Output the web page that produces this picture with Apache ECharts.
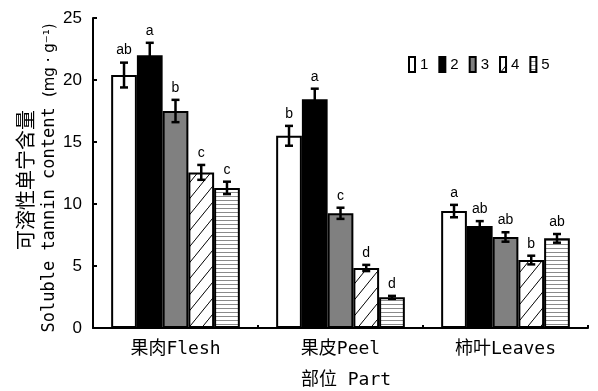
<!DOCTYPE html>
<html>
<head>
<meta charset="utf-8">
<script src="https://cdn.jsdelivr.net/npm/echarts@6/dist/echarts.min.js"></script>
<style>
  html, body { margin: 0; padding: 0; background: #fff; }
  #chart { width: 598px; height: 391px; }
</style>
</head>
<body>
<div id="chart"></div>
<script>
// Parts sampled and treatment groups
const categories = ['果肉Flesh', '果皮Peel', '柿叶Leaves'];
const treatments = ['1', '2', '3', '4', '5'];

// Mean soluble tannin content (mg·g-1) per treatment, ordered as categories
const mean1 = [20.4, 15.5, 9.43];
const mean2 = [22.0, 18.45, 8.22];
const mean3 = [17.5, 9.25, 7.34];
const mean4 = [12.55, 4.84, 5.48];
const mean5 = [11.3, 2.47, 7.23];

// Standard errors
const err1 = [1.0, 0.8, 0.5];
const err2 = [1.0, 0.85, 0.4];
const err3 = [0.9, 0.45, 0.38];
const err4 = [0.6, 0.25, 0.35];
const err5 = [0.5, 0.12, 0.35];

// Significance letters
const sig1 = ['ab', 'b', 'a'];
const sig2 = ['a', 'a', 'ab'];
const sig3 = ['b', 'c', 'ab'];
const sig4 = ['c', 'd', 'b'];
const sig5 = ['c', 'd', 'ab'];

// Y axis ticks
const yMin = 0, yMax = 25, yStep = 5;

const means = [mean1, mean2, mean3, mean4, mean5];
const errs = [err1, err2, err3, err4, err5];
const sigs = [sig1, sig2, sig3, sig4, sig5];

// Fill patterns for treatments 4 (diagonal hatch) and 5 (horizontal lines)
function diagonalTile() {
  const w = 13, h = 16;
  const c = document.createElement('canvas');
  c.width = w; c.height = h;
  const g = c.getContext('2d');
  g.fillStyle = '#fff'; g.fillRect(0, 0, w, h);
  g.strokeStyle = '#000'; g.lineWidth = 1;
  g.beginPath();
  g.moveTo(-w, 2 * h); g.lineTo(2 * w, -h);
  g.moveTo(-2 * w, 2 * h); g.lineTo(w, -h);
  g.moveTo(0, 3 * h); g.lineTo(3 * w, 0);
  g.stroke();
  return c;
}
function horizontalTile() {
  const c = document.createElement('canvas');
  c.width = 4; c.height = 4;
  const g = c.getContext('2d');
  g.fillStyle = '#fff'; g.fillRect(0, 0, 4, 4);
  g.fillStyle = '#8a8a8a'; g.fillRect(0, 0, 4, 1);
  return c;
}

const fills = [
  '#ffffff',
  '#000000',
  '#808080',
  { image: diagonalTile(), repeat: 'repeat' },
  { image: horizontalTile(), repeat: 'repeat' }
];

const GAP = 0.22;
const N = treatments.length;

const barSeries = treatments.map((t, i) => ({
  name: t,
  type: 'bar',
  data: means[i],
  barGap: 0,
  barCategoryGap: (GAP * 100) + '%',
  itemStyle: { color: fills[i], borderColor: '#000', borderWidth: 2 },
  z: 2
}));

// Error bar records: [categoryIndex, treatmentIndex, mean, error]
const errData = [];
const errLetters = [];
for (let ti = 0; ti < N; ti++) {
  for (let ci = 0; ci < categories.length; ci++) {
    errData.push([ci, ti, means[ti][ci], errs[ti][ci]]);
    errLetters.push(sigs[ti][ci]);
  }
}

const errorSeries = {
  type: 'custom',
  name: 'err',
  data: errData,
  encode: { x: 0, y: 2 },
  z: 5,
  silent: true,
  renderItem: function (params, api) {
    const ci = api.value(0), ti = api.value(1), v = api.value(2), e = api.value(3);
    const c = api.coord([ci, v]);
    const band = api.size([1, 0])[0];
    const bw = band * (1 - GAP) / N;
    const x = c[0] + (ti - (N - 1) / 2) * bw;
    const yTop = api.coord([ci, v + e])[1];
    const yBot = api.coord([ci, v - e])[1];
    const half = 4;
    const st = { stroke: '#000', lineWidth: 2.5 };
    return {
      type: 'group',
      children: [
        { type: 'line', shape: { x1: x, y1: yTop, x2: x, y2: yBot }, style: st },
        { type: 'line', shape: { x1: x - half, y1: yTop, x2: x + half, y2: yTop }, style: st },
        { type: 'line', shape: { x1: x - half, y1: yBot, x2: x + half, y2: yBot }, style: st },
        {
          type: 'text', x: x, y: yTop - 5,
          style: {
            text: errLetters[params.dataIndex],
            textAlign: 'center', textVerticalAlign: 'bottom',
            font: '14px "Liberation Sans", Arial, sans-serif', fill: '#000'
          }
        }
      ]
    };
  }
};

const chart = echarts.init(document.getElementById('chart'), null, { renderer: 'canvas' });
chart.setOption({
  animation: false,
  backgroundColor: '#fff',
  grid: { left: 93, right: 10, top: 18, bottom: 63 },
  legend: {
    data: treatments,
    left: 403, top: 51,
    itemWidth: 6, itemHeight: 15, itemGap: 10,
    icon: 'rect',
    textStyle: { fontSize: 15, fontFamily: '"Liberation Sans", Arial, sans-serif', color: '#000' }
  },
  xAxis: {
    type: 'category',
    data: categories,
    axisLine: { lineStyle: { color: '#000', width: 2 } },
    axisTick: { show: true, inside: true, length: 3, lineStyle: { color: '#000', width: 2 } },
    axisLabel: {
      margin: 12, color: '#000', fontSize: 18,
      fontFamily: '"DejaVu Sans Mono", "Noto Sans CJK SC", monospace'
    }
  },
  yAxis: {
    type: 'value',
    min: yMin, max: yMax, interval: yStep,
    splitLine: { show: false },
    axisLine: { show: true, lineStyle: { color: '#000', width: 2 } },
    axisTick: { show: true, inside: true, length: 4, lineStyle: { color: '#000', width: 2 } },
    axisLabel: {
      margin: 11, color: '#000', fontSize: 17,
      fontFamily: '"Liberation Sans", Arial, sans-serif'
    }
  },
  graphic: [
    {
      type: 'text', x: 25, y: 180, rotation: Math.PI / 2,
      style: {
        text: '可溶性单宁含量', textAlign: 'center', textVerticalAlign: 'middle',
        font: '20px "Noto Sans CJK SC", sans-serif', fill: '#000'
      }
    },
    {
      type: 'text', x: 50, y: 178, rotation: Math.PI / 2,
      style: {
        text: '{a|Soluble tannin content }{b|(mg · g⁻¹)}',
        textAlign: 'center', textVerticalAlign: 'middle',
        rich: {
          a: { fontSize: 17, fontFamily: '"DejaVu Sans Mono", monospace', fill: '#000' },
          b: { fontSize: 15, fontFamily: '"DejaVu Sans", sans-serif', fill: '#000' }
        }
      }
    },
    {
      type: 'text', x: 346, y: 380,
      style: {
        text: '部位 Part', textAlign: 'center', textVerticalAlign: 'middle',
        font: '18px "DejaVu Sans Mono", "Noto Sans CJK SC", monospace', fill: '#000'
      }
    }
  ],
  series: barSeries.concat([errorSeries])
});
</script>
</body>
</html>
